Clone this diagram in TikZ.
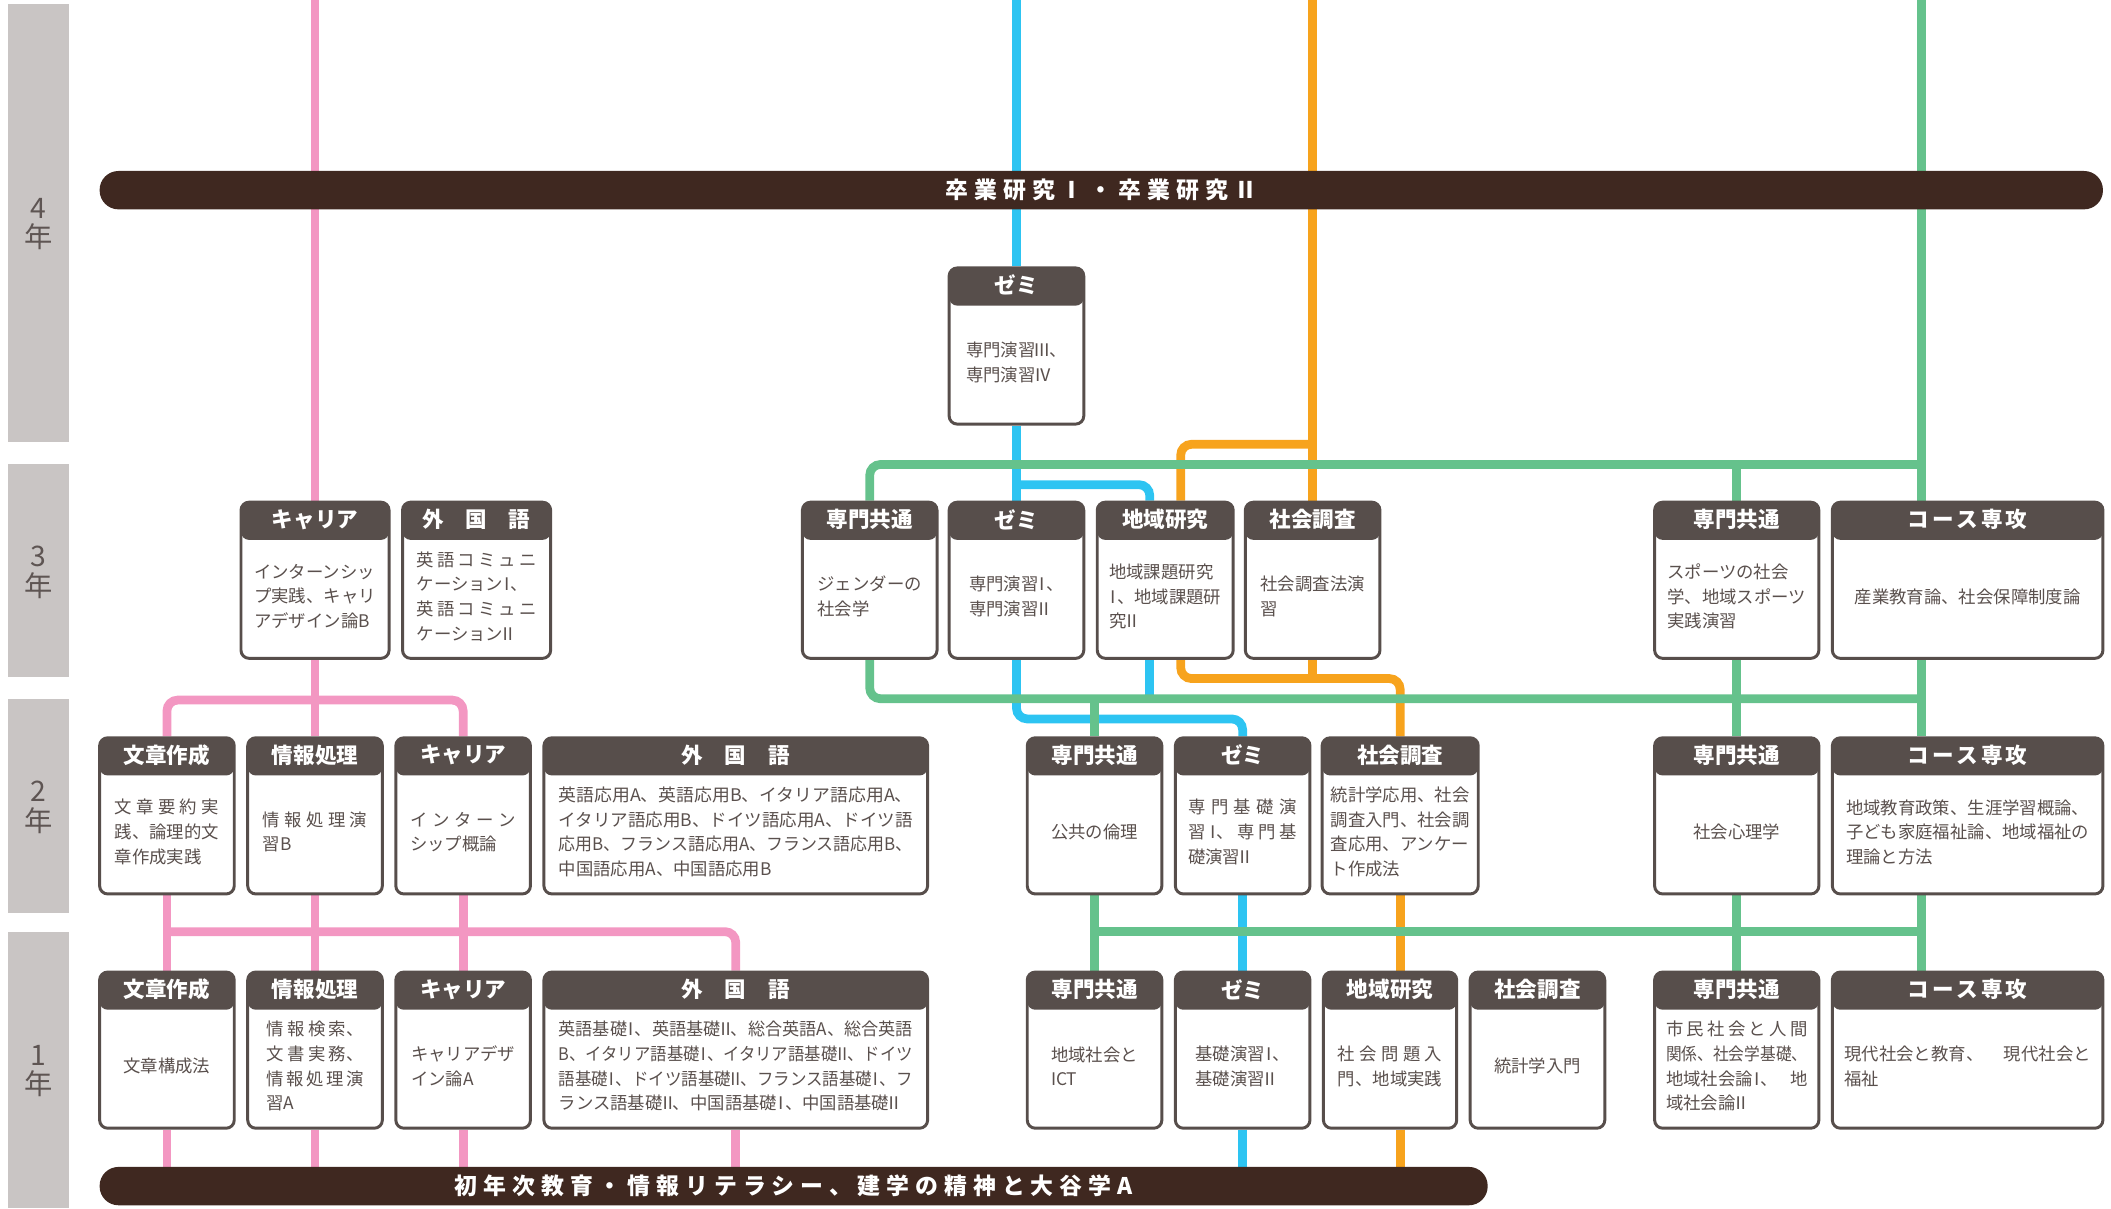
\documentclass[tikz,border=0pt]{standalone}
\usepackage{fontspec}
\usepackage{graphicx}
\usetikzlibrary{backgrounds}

\newfontfamily\jp{Noto Sans CJK JP}
\newfontfamily\jpbar{Noto Sans CJK JP}[LetterSpace=26]

\definecolor{pinkln}{HTML}{F397C2}
\definecolor{blueln}{HTML}{2DC4F2}
\definecolor{orangeln}{HTML}{F7A31D}
\definecolor{greenln}{HTML}{65C28C}
\definecolor{barcol}{HTML}{3F2820}
\definecolor{framecol}{HTML}{574E4B}
\definecolor{textcol}{HTML}{5A504D}
\definecolor{yearbg}{HTML}{C9C5C4}
\definecolor{yearcol}{HTML}{5E5553}

\newcommand\boxfont{\jp\fontsize{12.9pt}{18.3pt}\selectfont}
\newcommand\headfont{\jp\bfseries\fontsize{16pt}{18pt}\selectfont}
\newcommand\barfont{\jpbar\bfseries\fontsize{17pt}{19pt}\selectfont}
\newcommand\yearfont{\jp\fontsize{21pt}{22pt}\selectfont}

% spread a line to a width, or squeeze it to a width
\newcommand\spr[2]{\makebox[#1][s]{#2}}
\newcommand\gp{\hfill}
\newcommand\fitw[2]{\resizebox{#1}{\height}{#2}}
% narrow roman numerals
\newcommand\romI{\makebox[0.45em]{Ⅰ}}
\newcommand\romII{\makebox[0.6em]{Ⅱ}}
\newcommand\romIII{\makebox[0.8em]{Ⅲ}}
\newcommand\romIV{\makebox[0.85em]{Ⅳ}}

\tikzset{
  course/.style={draw=framecol, line width=2.2pt, fill=white, rounded corners=6pt,
    minimum height=116pt, inner sep=0pt,
    path picture={\fill[framecol] (path picture bounding box.north west)
      rectangle ([yshift=-28pt]path picture bounding box.north east);}},
  head/.style={inner sep=0pt, text=white, font=\headfont},
  txt/.style={inner sep=0pt, align=left, text=textcol, font=\boxfont},
  capsule/.style={fill=barcol, rounded corners=14pt, minimum height=28.5pt,
    inner sep=0pt, text=white, font=\barfont},
  yeartxt/.style={inner sep=0pt, align=center, text=yearcol, font=\yearfont},
  route/.style={draw=#1, line width=6.5pt},
}

\begin{document}
\begin{tikzpicture}[x=1pt, y=-1pt]
    \useasboundingbox (0,0) rectangle (1568,897.3);

    % year bands on the left
    \foreach \yr/\ya/\yb in {4/3/328,3/345/503,2/519/678,1/692/897.3} {
      \fill[yearbg] (6,\ya) rectangle (51,\yb);
      \node[yeartxt] (year\yr) at (28.5,{(\ya+\yb)/2+1}) {\yr\\年};
    };

    % the two long bars
    \node[capsule, minimum width=1488pt] (bar4) at (818,141.25) {卒業研究Ⅰ・卒業研究Ⅱ};
    \node[capsule, minimum width=1031pt] (bar1) at (589.5,881) {初年次教育・情報リテラシー、建学の精神と大谷学A};

    % 4th year
    \node[course, minimum width=100pt] (zemi4) at (755,257) {};
    \node[head] (zemi4-h) at ([yshift=-14pt]zemi4.north) {ゼミ};
    \node[txt] (zemi4-b) at ([yshift=-12pt]zemi4.center) {専門演習\romIII、\\専門演習\romIV};

    % 3rd year
    \node[course, minimum width=110pt] (car3) at (234,431) {};
    \node[head] (car3-h) at ([yshift=-14pt]car3.north) {キャリア};
    \node[txt] (car3-b) at ([yshift=-12pt]car3.center) {インターンシッ\\プ実践、キャリ\\アデザイン論B};

    \node[course, minimum width=110pt] (gai3) at (354,431) {};
    \node[head] (gai3-h) at ([yshift=-14pt]gai3.north) {外　国　語};
    \node[txt] (gai3-b) at ([yshift=-12pt]gai3.center) {\spr{89pt}{英\gp 語\gp コ\gp ミ\gp ュ\gp ニ}\\ケーション\romI、\\\spr{89pt}{英\gp 語\gp コ\gp ミ\gp ュ\gp ニ}\\ケーション\romII};

    \node[course, minimum width=100pt] (sen3) at (646,431) {};
    \node[head] (sen3-h) at ([yshift=-14pt]sen3.north) {専門共通};
    \node[txt] (sen3-b) at ([yshift=-12pt]sen3.center) {ジェンダーの\\社会学};

    \node[course, minimum width=100pt] (zemi3) at (755,431) {};
    \node[head] (zemi3-h) at ([yshift=-14pt]zemi3.north) {ゼミ};
    \node[txt] (zemi3-b) at ([yshift=-12pt]zemi3.center) {専門演習\romI、\\専門演習\romII};

    \node[course, minimum width=101pt] (chi3) at (865.5,431) {};
    \node[head] (chi3-h) at ([yshift=-14pt]chi3.north) {地域研究};
    \node[txt] (chi3-b) at ([yshift=-12pt]chi3.center) {地域課題研究\\\romI、地域課題研\\究\romII};

    \node[course, minimum width=100pt] (soc3) at (975,431) {};
    \node[head] (soc3-h) at ([yshift=-14pt]soc3.north) {社会調査};
    \node[txt] (soc3-b) at ([yshift=-12pt]soc3.center) {社会調査法演\\習};

    \node[course, minimum width=122pt] (senR3) at (1290,431) {};
    \node[head] (senR3-h) at ([yshift=-14pt]senR3.north) {専門共通};
    \node[txt] (senR3-b) at ([yshift=-12pt]senR3.center) {スポーツの社会\\学、地域スポーツ\\実践演習};

    \node[course, minimum width=201pt] (cou3) at (1461.5,431) {};
    \node[head] (cou3-h) at ([yshift=-14pt]cou3.north) {\addfontfeature{LetterSpace=15}コース専攻};
    \node[txt] (cou3-b) at ([yshift=-12pt]cou3.center) {産業教育論、社会保障制度論};

    % 2nd year
    \node[course, minimum width=100pt] (bun2) at (124,606) {};
    \node[head] (bun2-h) at ([yshift=-14pt]bun2.north) {文章作成};
    \node[txt] (bun2-b) at ([yshift=-12pt]bun2.center) {\spr{6em}{文\gp 章\gp 要\gp 約\gp 実}\\践、論理的文\\章作成実践};

    \node[course, minimum width=100pt] (joh2) at (234,606) {};
    \node[head] (joh2-h) at ([yshift=-14pt]joh2.north) {情報処理};
    \node[txt] (joh2-b) at ([yshift=-12pt]joh2.center) {\spr{6em}{情\gp 報\gp 処\gp 理\gp 演}\\習B};

    \node[course, minimum width=100pt] (car2) at (344,606) {};
    \node[head] (car2-h) at ([yshift=-14pt]car2.north) {キャリア};
    \node[txt] (car2-b) at ([yshift=-12pt]car2.center) {\spr{6.1em}{イ\gp ン\gp タ\gp ー\gp ン}\\シップ概論};

    \node[course, minimum width=285pt] (gai2) at (546.5,606) {};
    \node[head] (gai2-h) at ([yshift=-14pt]gai2.north) {外　国　語};
    \node[txt] (gai2-b) at ([yshift=-12pt]gai2.center) {\fitw{263pt}{英語応用A、英語応用B、イタリア語応用A、}\\\fitw{263pt}{イタリア語応用B、ドイツ語応用A、ドイツ語}\\\fitw{263pt}{応用B、フランス語応用A、フランス語応用B、}\\中国語応用A、中国語応用B};

    \node[course, minimum width=100pt] (sen2) at (813,606) {};
    \node[head] (sen2-h) at ([yshift=-14pt]sen2.north) {専門共通};
    \node[txt] (sen2-b) at ([yshift=-12pt]sen2.center) {公共の倫理};

    \node[course, minimum width=100pt] (zemi2) at (923,606) {};
    \node[head] (zemi2-h) at ([yshift=-14pt]zemi2.north) {ゼミ};
    \node[txt] (zemi2-b) at ([yshift=-12pt]zemi2.center) {\spr{81pt}{専\gp 門\gp 基\gp 礎\gp 演}\\\spr{81pt}{習\gp \romI、\gp 専\gp 門\gp 基}\\礎演習\romII};

    \node[course, minimum width=116pt] (soc2) at (1040,606) {};
    \node[head] (soc2-h) at ([yshift=-14pt]soc2.north) {社会調査};
    \node[txt] (soc2-b) at ([yshift=-12pt]soc2.center) {統計学応用、社会\\調査入門、社会調\\査応用、アンケー\\ト作成法};

    \node[course, minimum width=122pt] (senR2) at (1290,606) {};
    \node[head] (senR2-h) at ([yshift=-14pt]senR2.north) {専門共通};
    \node[txt] (senR2-b) at ([yshift=-12pt]senR2.center) {社会心理学};

    \node[course, minimum width=201pt] (cou2) at (1461.5,606) {};
    \node[head] (cou2-h) at ([yshift=-14pt]cou2.north) {\addfontfeature{LetterSpace=15}コース専攻};
    \node[txt] (cou2-b) at ([yshift=-12pt]cou2.center) {地域教育政策、生涯学習概論、\\子ども家庭福祉論、地域福祉の\\理論と方法};

    % 1st year
    \node[course, minimum width=100pt] (bun1) at (124,780) {};
    \node[head] (bun1-h) at ([yshift=-14pt]bun1.north) {文章作成};
    \node[txt] (bun1-b) at ([yshift=-12pt]bun1.center) {文章構成法};

    \node[course, minimum width=100pt] (joh1) at (234,780) {};
    \node[head] (joh1-h) at ([yshift=-14pt]joh1.north) {情報処理};
    \node[txt] (joh1-b) at ([yshift=-12pt]joh1.center) {\spr{72pt}{情\gp 報\gp 検\gp 索、}\\\spr{72pt}{文\gp 書\gp 実\gp 務、}\\\spr{72pt}{情\gp 報\gp 処\gp 理\gp 演}\\習A};

    \node[course, minimum width=100pt] (car1) at (344,780) {};
    \node[head] (car1-h) at ([yshift=-14pt]car1.north) {キャリア};
    \node[txt] (car1-b) at ([yshift=-12pt]car1.center) {キャリアデザ\\イン論A};

    \node[course, minimum width=285pt] (gai1) at (546.5,780) {};
    \node[head] (gai1-h) at ([yshift=-14pt]gai1.north) {外　国　語};
    \node[txt] (gai1-b) at ([yshift=-12pt]gai1.center) {\fitw{263pt}{英語基礎\romI、英語基礎\romII、総合英語A、総合英語}\\\fitw{263pt}{B、イタリア語基礎\romI、イタリア語基礎\romII、ドイツ}\\\fitw{263pt}{語基礎\romI、ドイツ語基礎\romII、フランス語基礎\romI、フ}\\ランス語基礎\romII、中国語基礎\romI、中国語基礎\romII};

    \node[course, minimum width=100pt] (sen1) at (813,780) {};
    \node[head] (sen1-h) at ([yshift=-14pt]sen1.north) {専門共通};
    \node[txt] (sen1-b) at ([yshift=-12pt]sen1.center) {地域社会と\\ICT};

    \node[course, minimum width=100pt] (zemi1) at (923,780) {};
    \node[head] (zemi1-h) at ([yshift=-14pt]zemi1.north) {ゼミ};
    \node[txt] (zemi1-b) at ([yshift=-12pt]zemi1.center) {基礎演習\romI、\\基礎演習\romII};

    \node[course, minimum width=99pt] (chi1) at (1032.5,780) {};
    \node[head] (chi1-h) at ([yshift=-14pt]chi1.north) {地域研究};
    \node[txt] (chi1-b) at ([yshift=-12pt]chi1.center) {\spr{6em}{社\gp 会\gp 問\gp 題\gp 入}\\門、地域実践};

    \node[course, minimum width=100pt] (soc1) at (1142,780) {};
    \node[head] (soc1-h) at ([yshift=-14pt]soc1.north) {社会調査};
    \node[txt] (soc1-b) at ([yshift=-12pt]soc1.center) {統計学入門};

    \node[course, minimum width=122pt] (senR1) at (1290,780) {};
    \node[head] (senR1-h) at ([yshift=-14pt]senR1.north) {専門共通};
    \node[txt] (senR1-b) at ([yshift=-12pt]senR1.center) {\spr{105pt}{市\gp 民\gp 社\gp 会\gp と\gp 人\gp 間}\\\fitw{105pt}{関係、社会学基礎、}\\\spr{105pt}{地域社会論\romI、\gp 地}\\域社会論\romII};

    \node[course, minimum width=201pt] (cou1) at (1461.5,780) {};
    \node[head] (cou1-h) at ([yshift=-14pt]cou1.north) {\addfontfeature{LetterSpace=15}コース専攻};
    \node[txt] (cou1-b) at ([yshift=-12pt]cou1.center) {\spr{183pt}{現代社会と教育、\gp 現代社会と}\\福祉};

    % free ends at the top and the levels of the cross lines
    \coordinate (pinkTop) at (234,0);
    \coordinate (blueTop) at (755,0);
    \coordinate (oranTop) at (975,0);
    \coordinate (grnTop) at (1427,0);
    \coordinate (lvO1) at (0,330);
    \coordinate (lvG1) at (0,345);
    \coordinate (lvB1) at (0,360);
    \coordinate (lvO2) at (0,504);
    \coordinate (lvG2) at (0,519);
    \coordinate (lvP1) at (0,520);
    \coordinate (lvB2) at (0,534);
    \coordinate (lvG3) at (0,692);
    \coordinate (lvP2) at (0,692);
    \coordinate (chiB) at ([xshift=-11.5pt]chi3.north);
    \coordinate (chiO) at ([xshift=11.5pt]chi3.north);

    \begin{scope}[on background layer]
      % pink lines
      \draw[route=pinkln] (pinkTop) -- (car3.north);
      \draw[route=pinkln] (car3.south) -- (joh2.north);
      \draw[route=pinkln, rounded corners=8pt] (bun2.north) -- (bun2.north |- lvP1) -- (car2.north |- lvP1) -- (car2.north);
      \draw[route=pinkln] (bun2.south) -- (bun1.north);
      \draw[route=pinkln] (joh2.south) -- (joh1.north);
      \draw[route=pinkln] (car2.south) -- (car1.north);
      \draw[route=pinkln, rounded corners=8pt] (bun2.south |- lvP2) -- (gai1.north |- lvP2) -- (gai1.north);
      \foreach \b in {bun1,joh1,car1,gai1} {
        \draw[route=pinkln] (\b.south) -- (\b.south |- bar1.north);
      };

      % blue lines
      \draw[route=blueln] (blueTop) -- (zemi4.north);
      \draw[route=blueln] (zemi4.south) -- (zemi3.north);
      \draw[route=blueln, rounded corners=8pt] (zemi3.north |- lvB1) -- (chiB |- lvB1) -- (chiB);
      \draw[route=blueln, rounded corners=8pt] (zemi3.south) -- (zemi3.south |- lvB2) -- (zemi2.north |- lvB2) -- (zemi2.north);
      \draw[route=blueln] (chiB |- chi3.south) -- (chiB |- lvG2);
      \draw[route=blueln] (zemi2.south) -- (zemi1.north);
      \draw[route=blueln] (zemi1.south) -- (zemi1.south |- bar1.north);

      % orange lines
      \draw[route=orangeln] (oranTop) -- (soc3.north);
      \draw[route=orangeln, rounded corners=8pt] (soc3.north |- lvO1) -- (chiO |- lvO1) -- (chiO);
      \draw[route=orangeln, rounded corners=8pt] (chiO |- chi3.south) -- (chiO |- lvO2) -- (soc2.north |- lvO2) -- (soc2.north);
      \draw[route=orangeln] (soc3.south) -- (soc3.south |- lvO2);
      \draw[route=orangeln] (soc2.south) -- (soc2.south |- chi1.north);
      \draw[route=orangeln] (soc2.south |- chi1.south) -- (soc2.south |- bar1.north);

      % green lines go on top of the others
      \draw[route=greenln] (grnTop) -- (grnTop |- cou3.north);
      \draw[route=greenln, rounded corners=8pt] (sen3.north) -- (sen3.north |- lvG1) -- (grnTop |- lvG1);
      \draw[route=greenln] (senR3.north |- lvG1) -- (senR3.north);
      \draw[route=greenln, rounded corners=8pt] (sen3.south) -- (sen3.south |- lvG2) -- (grnTop |- lvG2);
      \draw[route=greenln] (senR3.south) -- (senR2.north);
      \draw[route=greenln] (grnTop |- cou3.south) -- (grnTop |- cou2.north);
      \draw[route=greenln] (sen2.north |- lvG2) -- (sen2.north);
      \draw[route=greenln] (sen2.south) -- (sen1.north);
      \draw[route=greenln] (sen2.south |- lvG3) -- (grnTop |- lvG3);
      \draw[route=greenln] (senR2.south) -- (senR1.north);
      \draw[route=greenln] (grnTop |- cou2.south) -- (grnTop |- cou1.north);
    \end{scope}
\end{tikzpicture}
\end{document}
